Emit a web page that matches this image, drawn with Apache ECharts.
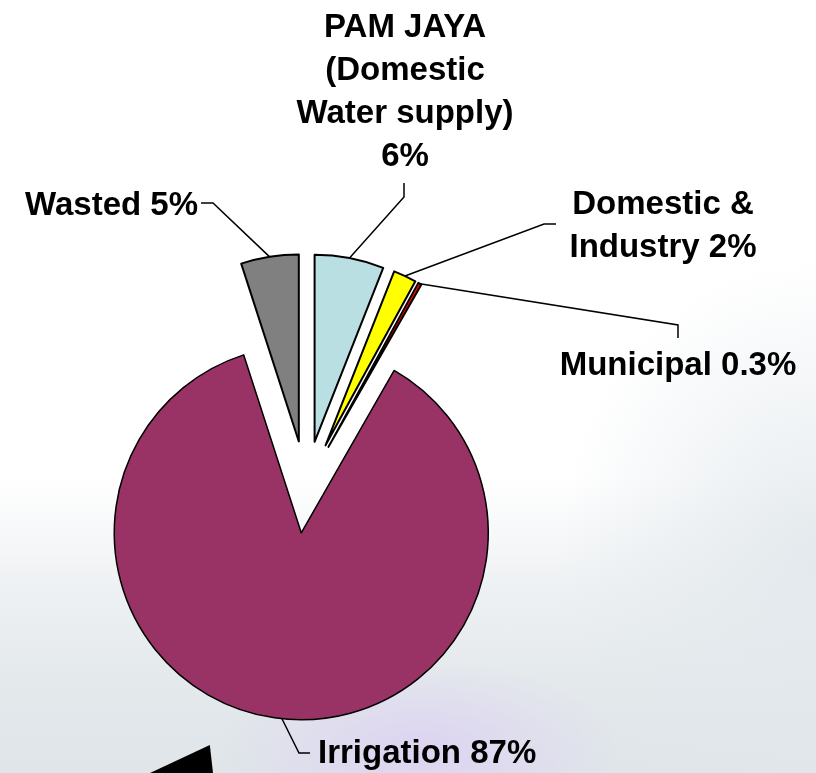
<!DOCTYPE html>
<html><head><meta charset="utf-8">
<script src="https://cdn.jsdelivr.net/npm/echarts@6/dist/echarts.min.js"></script>
<style>
html,body{margin:0;padding:0;width:816px;height:773px;overflow:hidden;}
body{background:
 radial-gradient(ellipse 200px 90px at 420px 750px, rgba(221,210,242,0.95), rgba(221,210,242,0) 100%),
 radial-gradient(ellipse 260px 300px at 816px 560px, rgba(226,232,236,0.9), rgba(226,232,236,0) 100%),
 linear-gradient(to bottom, #ffffff 0%, #ffffff 62%, #eef1f3 76%, #e4e9ec 88%, #dfe5e9 100%);}
#chart{width:816px;height:773px;position:absolute;left:0;top:0;}
#tri{position:absolute;left:150px;top:745px;width:63px;height:28px;background:#000;clip-path:polygon(0 100%, 95% 0, 100% 100%);}
</style></head>
<body><div id="tri"></div><div id="chart"></div>
<script>
// ---- data ----
const categories = ['PAM JAYA (Domestic Water supply)', 'Domestic & Industry', 'Municipal', 'Irrigation', 'Wasted'];
const shares = [6, 2, 0.3, 87, 5];
const labelTexts = ['PAM JAYA\n(Domestic\nWater supply)\n6%', 'Domestic &\nIndustry 2%', 'Municipal 0.3%', 'Irrigation 87%', 'Wasted 5%'];
const colors = ['#B9DFE3', '#FFFF00', '#FF0000', '#993366', '#808080'];

// ---- layout / style ----
const C = [306, 487];
const R = 187;
const EXPLODE = 46;
const labelPos = [
  {x: 405, y: 92, align: 'center', line: [[404, 197], [404, 183]]},
  {x: 663, y: 226, align: 'center', line: [[544, 224], [556, 224]]},
  {x: 678, y: 366, align: 'center', line: [[678, 325], [678, 338]]},
  {x: 318, y: 754, align: 'left', line: [[299, 753], [310, 753]]},
  {x: 198, y: 206, align: 'right', line: [[213, 203], [201, 203]]}
];
const borderW = [2, 2, 2, 1.5, 2];

const total = shares.reduce((a, b) => a + b, 0);
let acc = 0;
const centers = shares.map(v => {
  const mid = (acc + v / 2) / total * 2 * Math.PI;
  acc += v;
  return [C[0] + EXPLODE * Math.sin(mid), C[1] - EXPLODE * Math.cos(mid)];
});

const chart = echarts.init(document.getElementById('chart'), null, {renderer: 'canvas'});
const series = shares.map((_, i) => ({
  type: 'pie',
  center: centers[i],
  radius: R,
  startAngle: 90,
  clockwise: true,
  avoidLabelOverlap: false,
  silent: true,
  animation: false,
  emphasis: {disabled: true},
  z: i === 3 ? 1 : 2,
  data: shares.map((val, j) => ({
    value: val,
    name: categories[j],
    itemStyle: j === i
      ? {color: colors[j], borderColor: '#000', borderWidth: borderW[j]}
      : {color: 'rgba(0,0,0,0)', borderColor: 'rgba(0,0,0,0)', borderWidth: 0},
    label: {show: j === i},
    labelLine: {show: j === i}
  })),
  label: {
    position: 'outside',
    formatter: p => labelTexts[p.dataIndex],
    color: '#000',
    fontFamily: '"Liberation Sans", Arial, sans-serif',
    fontWeight: 'bold',
    fontSize: 33,
    lineHeight: 43
  },
  labelLine: {show: true, length: 20, length2: 10, lineStyle: {color: '#000', width: 1.5}},
  labelLayout: p => {
    if (p.dataIndex !== i) return {};
    const lp = labelPos[i];
    const start = p.labelLinePoints ? p.labelLinePoints[0] : lp.line[0];
    return {
      x: lp.x, y: lp.y, align: lp.align, verticalAlign: 'middle',
      labelLinePoints: [start, lp.line[0], lp.line[1]]
    };
  }
}));

chart.setOption({backgroundColor: 'transparent', series: series});
</script>
</body></html>
